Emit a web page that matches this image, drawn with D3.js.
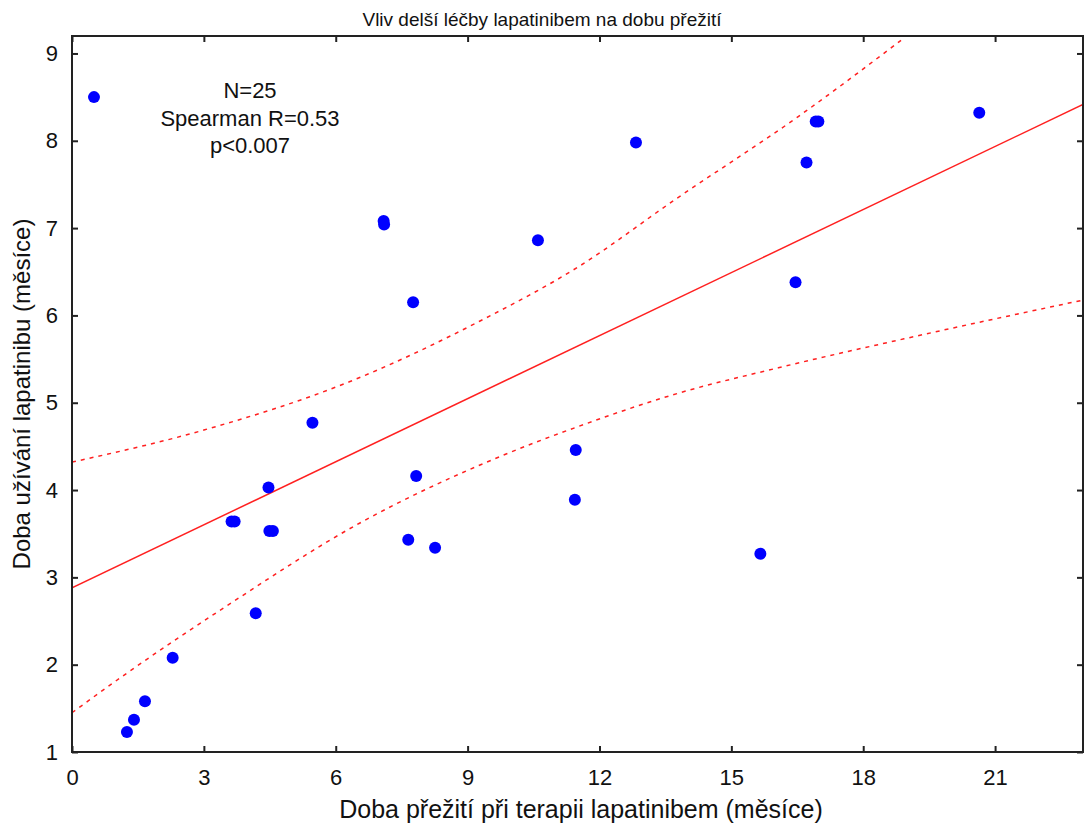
<!DOCTYPE html>
<html>
<head>
<meta charset="utf-8">
<script src="https://cdn.jsdelivr.net/npm/d3@7"></script>
<style>
  body { margin: 0; background: #fff; }
  text { font-family: "Liberation Sans", Arial, sans-serif; fill: #111; }
</style>
</head>
<body>
<script>
// data
var survival = [0.50, 1.25, 1.41, 1.66, 2.29, 3.63, 3.70, 4.18, 4.47, 4.49, 4.57, 5.47,
                7.09, 7.10, 7.65, 7.76, 7.83, 8.26, 10.60, 11.44, 11.46, 12.83,
                15.66, 16.46, 16.71, 16.92, 16.98, 20.64];
var usage    = [8.50, 1.23, 1.37, 1.58, 2.08, 3.64, 3.64, 2.59, 4.03, 3.53, 3.53, 4.77,
                7.08, 7.04, 3.43, 6.15, 4.16, 3.34, 6.86, 3.89, 4.46, 7.98,
                3.27, 6.38, 7.75, 8.22, 8.22, 8.32];

var fitIntercept = 2.88;
var fitSlope = 0.2407;

var upperX = [0, 3.02, 6.31, 9.26, 11.53, 13.73, 16.53, 18.86];
var upperY = [4.32, 4.69, 5.24, 5.93, 6.56, 7.33, 8.28, 9.15];
var lowerX = [0, 1.24, 3.51, 6.54, 9.72, 11.53, 13.80, 16.07, 19.18, 22.95];
var lowerY = [1.45, 1.90, 2.67, 3.62, 4.38, 4.73, 5.11, 5.40, 5.76, 6.17];

var xTicks = [0, 3, 6, 9, 12, 15, 18, 21];
var yTicks = [1, 2, 3, 4, 5, 6, 7, 8, 9];
var notes = ["N=25", "Spearman R=0.53", "p<0.007"];

var title = "Vliv delší léčby lapatinibem na dobu přežití";
var xLabel = "Doba přežití při terapii lapatinibem (měsíce)";
var yLabel = "Doba užívání lapatinibu (měsíce)";

var width = 1086
var height = 832
var pLeft = 72, pRight = 1083, pTop = 36, pBottom = 752

var x = d3.scaleLinear().domain([0, 23]).range([pLeft, pRight])
var y = d3.scaleLinear().domain([1, 9.2]).range([pBottom, pTop])

var svg = d3.select("body")
    .append("svg")
    .attr("width", width)
    .attr("height", height)

// clip so the bands stop at the frame
svg.append("clipPath")
    .attr("id", "clip")
    .append("rect")
    .attr("x", pLeft)
    .attr("y", pTop)
    .attr("width", pRight - pLeft)
    .attr("height", pBottom - pTop)

var lineGen = d3.line()
    .x(function(d) { return x(d[0]); })
    .y(function(d) { return y(d[1]); })
    .curve(d3.curveMonotoneX)

var upper = upperX.map(function(v, i) { return [v, upperY[i]]; })
var lower = lowerX.map(function(v, i) { return [v, lowerY[i]]; })
var fit = [0, 23].map(function(v) { return [v, fitIntercept + fitSlope * v]; })

var lines = svg.append("g").attr("clip-path", "url(#clip)")

lines.append("path")
    .attr("d", lineGen(upper))
    .attr("fill", "none")
    .attr("stroke", "#ff2020")
    .attr("stroke-width", 1.5)
    .attr("stroke-dasharray", "4,5")

lines.append("path")
    .attr("d", lineGen(lower))
    .attr("fill", "none")
    .attr("stroke", "#ff2020")
    .attr("stroke-width", 1.5)
    .attr("stroke-dasharray", "4,5")

lines.append("path")
    .attr("d", lineGen(fit))
    .attr("fill", "none")
    .attr("stroke", "#ff2020")
    .attr("stroke-width", 1.5)

svg.append("g").selectAll("circle")
    .data(survival)
    .enter()
    .append("circle")
    .attr("cx", function(d) { return x(d); })
    .attr("cy", function(d, i) { return y(usage[i]); })
    .attr("r", 6)
    .attr("fill", "#0000ff")

// frame with inward ticks on all sides
var axisColor = "#222"
svg.append("rect")
    .attr("x", pLeft)
    .attr("y", pTop)
    .attr("width", pRight - pLeft)
    .attr("height", pBottom - pTop)
    .attr("fill", "none")
    .attr("stroke", axisColor)
    .attr("stroke-width", 2)

var xb = svg.append("g")
    .attr("transform", "translate(0," + pBottom + ")")
    .call(d3.axisBottom(x).tickValues(xTicks).tickSize(-6).tickPadding(17).tickFormat(d3.format("d")))
var xt = svg.append("g")
    .attr("transform", "translate(0," + pTop + ")")
    .call(d3.axisTop(x).tickValues(xTicks).tickSize(-6).tickFormat(""))
var yl = svg.append("g")
    .attr("transform", "translate(" + pLeft + ",0)")
    .call(d3.axisLeft(y).tickValues(yTicks).tickSize(-6).tickPadding(14).tickFormat(d3.format("d")))
var yr = svg.append("g")
    .attr("transform", "translate(" + pRight + ",0)")
    .call(d3.axisRight(y).tickValues(yTicks).tickSize(-6).tickFormat(""))

;[xb, xt, yl, yr].forEach(function(a) {
    a.select(".domain").remove()
    a.selectAll(".tick line").attr("stroke", axisColor).attr("stroke-width", 2)
    a.selectAll(".tick text")
        .attr("fill", "#111")
        .style("font-size", "22px")
        .style("font-family", "'Liberation Sans', Arial, sans-serif")
})

svg.append("text")
    .attr("x", 542)
    .attr("y", 26)
    .attr("text-anchor", "middle")
    .style("font-size", "19px")
    .text(title)

svg.append("text")
    .attr("x", 581)
    .attr("y", 818)
    .attr("text-anchor", "middle")
    .style("font-size", "25px")
    .text(xLabel)

svg.append("text")
    .attr("transform", "translate(30," + ((pTop + pBottom) / 2) + ") rotate(-90)")
    .attr("text-anchor", "middle")
    .style("font-size", "24px")
    .text(yLabel)

svg.selectAll("text.note")
    .data(notes)
    .enter()
    .append("text")
    .attr("class", "note")
    .attr("x", 250)
    .attr("y", function(d, i) { return 98 + i * 27.5; })
    .attr("text-anchor", "middle")
    .style("font-size", "22px")
    .text(function(d) { return d; })
</script>
</body>
</html>
